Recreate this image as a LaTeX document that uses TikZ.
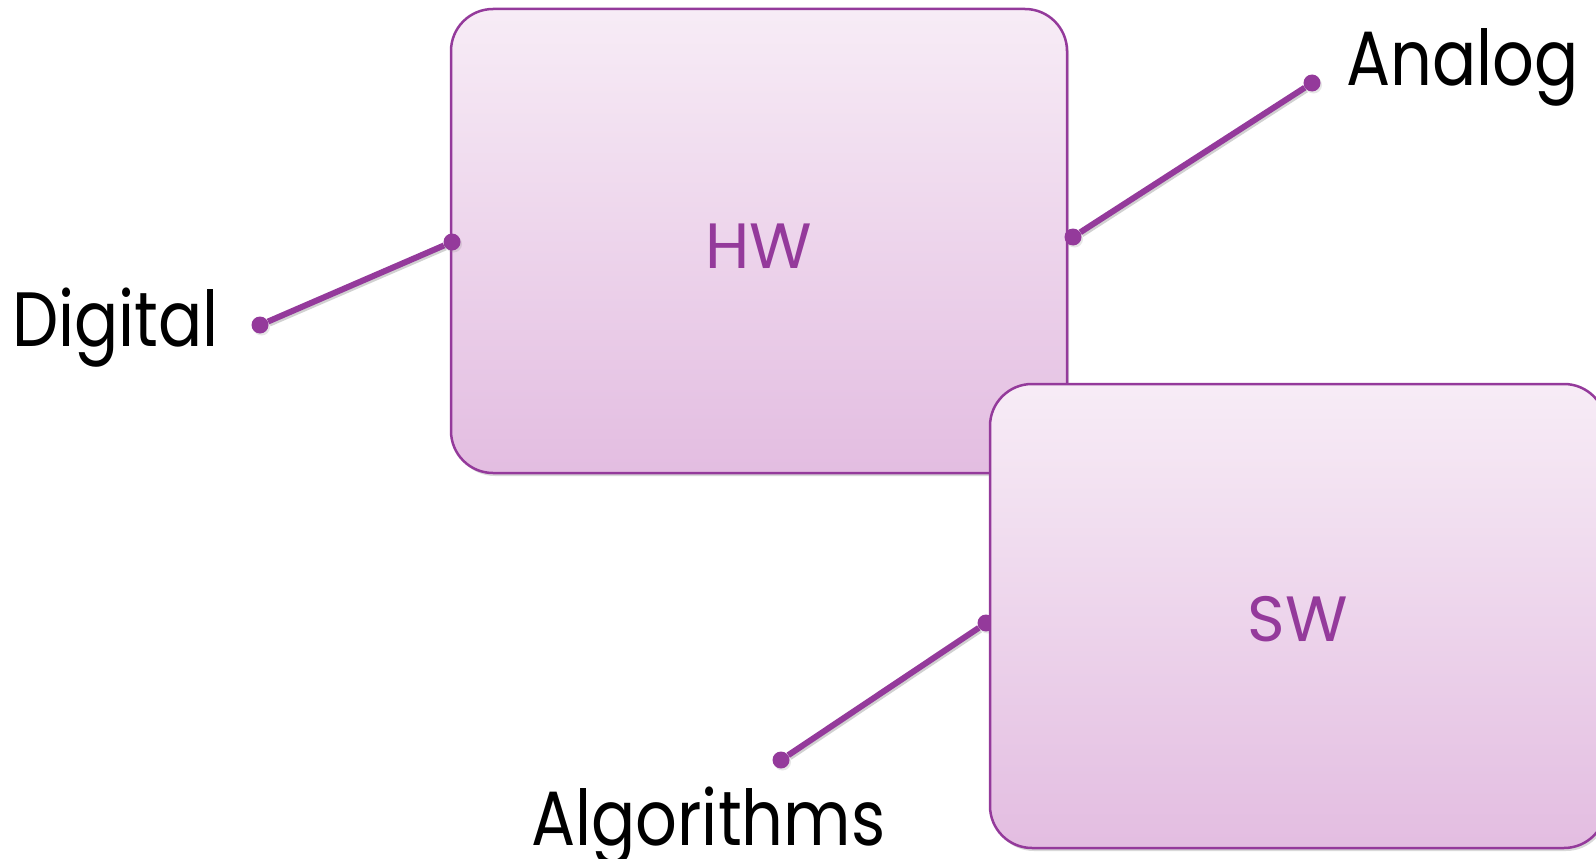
\documentclass[tikz,border=0pt]{standalone}
\usepackage{fontspec}
\setmainfont{Poppins}
\usetikzlibrary{shadows}
\definecolor{plum}{HTML}{943A9B}
\definecolor{boxtop}{HTML}{F7ECF6}
\definecolor{boxbot}{HTML}{E3BDE1}
% condensed setting for the outer labels
\newcommand{\slimtext}[1]{\scalebox{0.85}[1]{#1}}
\tikzset{
  block/.style={draw=plum, line width=2.5pt, rounded corners=42pt,
    minimum width=616pt, minimum height=464pt, inner sep=0pt,
    top color=boxtop, bottom color=boxbot,
    drop shadow={opacity=0.3, shadow xshift=2pt, shadow yshift=-3pt}},
  blocktext/.style={text=plum, font=\fontsize{64}{70}\selectfont,
    anchor=base, inner sep=0pt},
  link/.style={plum, line width=6pt,
    preaction={draw=black, opacity=0.18, line width=6pt,
      transform canvas={shift={(1.5pt,-2pt)}}}},
  tip/.style={circle, fill=plum, minimum size=17pt, inner sep=0pt,
    drop shadow={opacity=0.2, shadow xshift=1.5pt, shadow yshift=-2pt}},
  tag/.style={font=\fontsize{77}{85}\selectfont, anchor=base west, inner sep=0pt},
}
\begin{document}
\begin{tikzpicture}[x=1pt, y=-1pt]
  \useasboundingbox (0,0) rectangle (1596,859);
  \clip (0,0) rectangle (1596,859);

  % hardware block
  \node[block] (hw) at (759,241) {};
  \node[blocktext] (hwtext) at (759,268) {HW};

  % Digital link on the left of HW
  \node[tip] (dgo) at (260,325) {};
  \node[tip] (dgi) at (452,242) {};
  \draw[link] (dgo) -- (dgi);
  \node[tag] (digital) at (12,346) {\slimtext{Digital}};

  % Analog link on the right of HW
  \node[tip] (ani) at (1073,237) {};
  \node[tip] (ano) at (1312,83) {};
  \draw[link] (ani) -- (ano);
  \node[tag] (analog) at (1346,85) {\slimtext{Analog}};

  % Algorithms link into SW
  \node[tip] (alo) at (781,760) {};
  \node[tip] (ali) at (986,623) {};
  \draw[link] (alo) -- (ali);
  \node[tag] (algorithms) at (531,845) {\slimtext{Algorithms}};

  % software block, overlapping HW
  \node[block] (sw) at (1298,616) {};
  \node[blocktext] (swtext) at (1298,641) {SW};
\end{tikzpicture}
\end{document}
